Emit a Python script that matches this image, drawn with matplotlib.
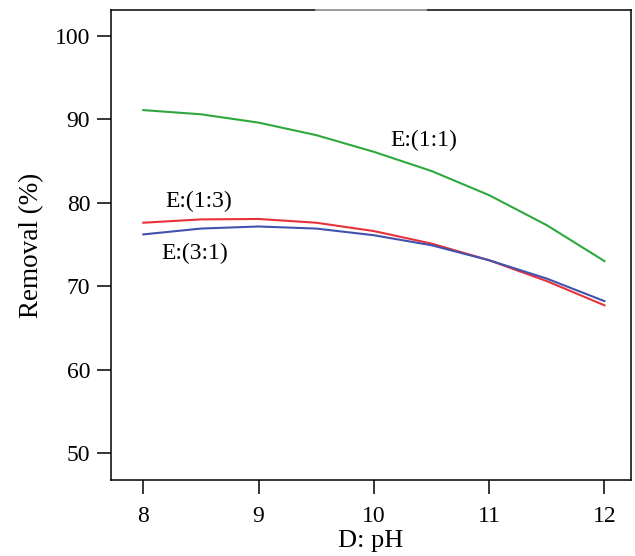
import matplotlib
matplotlib.use("Agg")
import matplotlib.pyplot as plt

ph = [8.0, 8.5, 9.0, 9.5, 10.0, 10.5, 11.0, 11.5, 12.0]

# Removal (%) for each E ratio
removal_11 = [91.1, 90.6, 89.6, 88.1, 86.1, 83.8, 80.9, 77.3, 73.0]
removal_13 = [77.6, 78.0, 78.05, 77.6, 76.6, 75.1, 73.1, 70.6, 67.7]
removal_31 = [76.2, 76.9, 77.15, 76.9, 76.1, 74.9, 73.1, 70.9, 68.2]

labels = ["E:(1:1)", "E:(1:3)", "E:(3:1)"]
xticks = [8, 9, 10, 11, 12]
yticks = [50, 60, 70, 80, 90, 100]

plt.rcParams['font.family'] = ['Liberation Serif', 'DejaVu Serif']

fig = plt.figure(figsize=(6.35, 5.56), dpi=100)
ax = fig.add_axes([0.1748, 0.1367, 0.8189, 0.8453])

ax.plot(ph, removal_11, color='#2ea83e', lw=1.5)
ax.plot(ph, removal_13, color='#e8323a', lw=1.5)
ax.plot(ph, removal_31, color='#4152ad', lw=1.5)

ax.text(10.43, 87.5, labels[0], fontsize=17, ha='center', va='center')
ax.text(8.48, 80.2, labels[1], fontsize=17, ha='center', va='center')
ax.text(8.45, 73.9, labels[2], fontsize=17, ha='center', va='center')

ax.set_xlim(7.72, 12.23)
ax.set_ylim(46.76, 103.1)
ax.set_xticks(xticks)
ax.set_yticks(yticks)
ax.tick_params(direction='out', length=10, width=1.1, labelsize=17, pad=5)
ax.tick_params(axis='x', pad=9)
for s in ax.spines.values():
    s.set_linewidth(1.1)

# lighter segment on the top frame line
ax.plot([0.394, 0.606], [1, 1], transform=ax.transAxes, color='#a8a8a8',
        lw=1.3, clip_on=False, zorder=5)

ax.set_xlabel("D: pH", fontsize=19, labelpad=2)
ax.set_ylabel("Removal (%)", fontsize=19.5, labelpad=8)

fig.savefig("out.png", dpi=100)
